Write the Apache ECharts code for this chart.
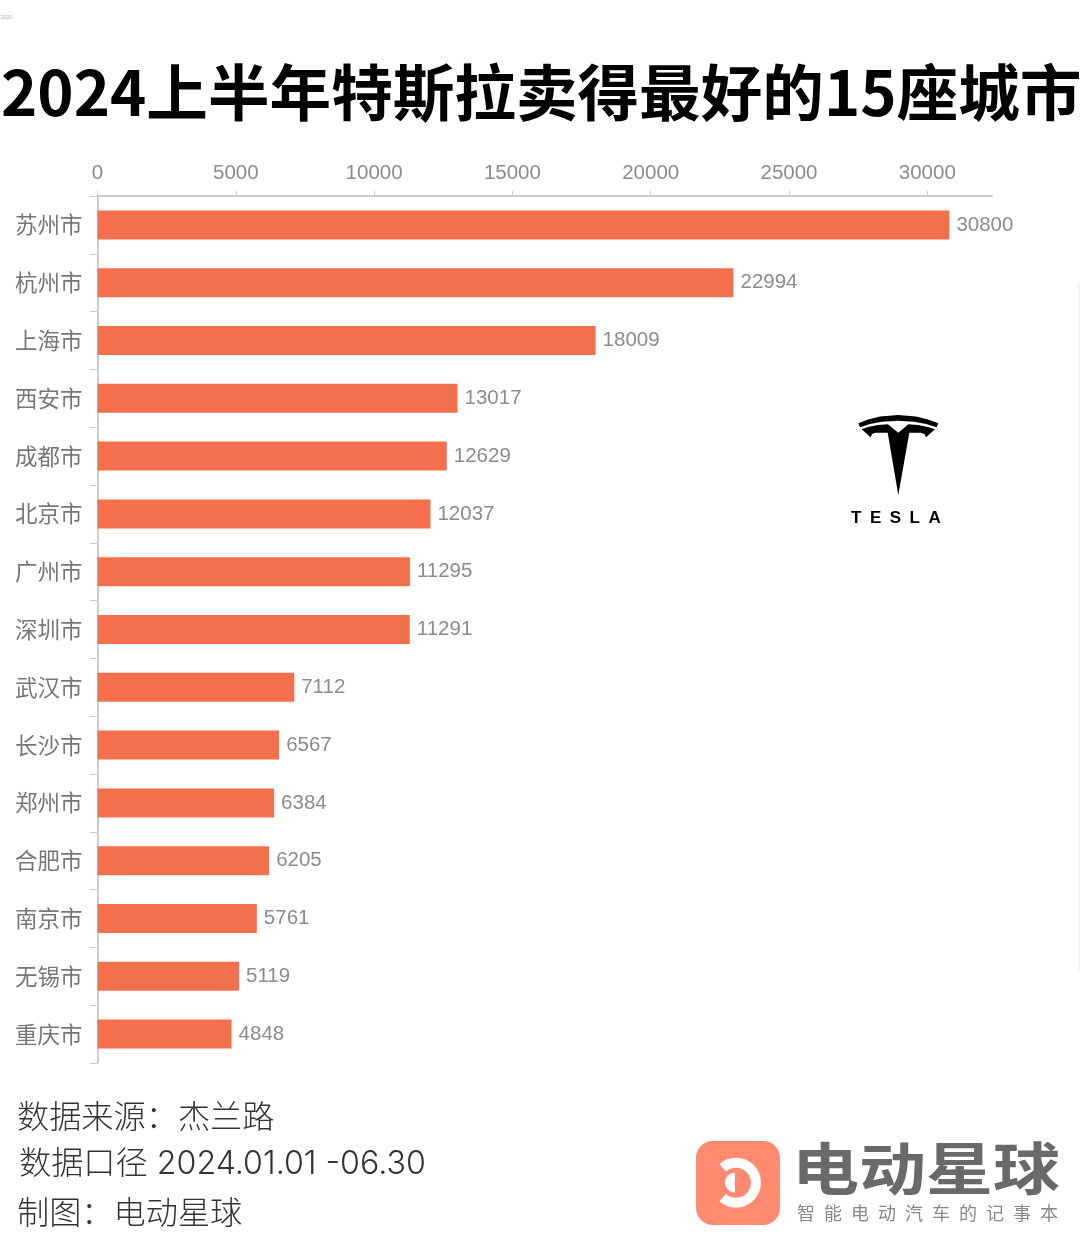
<!DOCTYPE html>
<html>
<head>
<meta charset="utf-8">
<script src="https://cdn.jsdelivr.net/npm/echarts@6/dist/echarts.min.js"></script>
<style>
html,body{margin:0;padding:0;background:#fff;}
#main{width:1080px;height:1260px;}
</style>
</head>
<body>
<div id="main"></div>
<script>
var cities = ['苏州市','杭州市','上海市','西安市','成都市','北京市','广州市','深圳市','武汉市','长沙市','郑州市','合肥市','南京市','无锡市','重庆市'];
var sales = [30800,22994,18009,13017,12629,12037,11295,11291,7112,6567,6384,6205,5761,5119,4848];
var xTicks = [0,5000,10000,15000,20000,25000,30000];
var axisMax = 32340;

var cjk = '"Noto Sans CJK SC"';
var mixed = '"Liberation Sans","Noto Sans CJK SC"';
var footFont = '"Inter","Noto Sans CJK SC"';

// tesla logo outline
var logoT = [[861.7,429.3],[868,427],[878,425],[888,424.3],[898.3,432.7],[908.3,424.3],[918,425],[928,427],[935,429.3],[926,437.3],[924.5,434],[921,432.7],[909.3,432.7],[898.3,495],[887.7,432.7],[875,432.7],[872,434],[870.7,437.3]];
var logoArc = [[858.3,423.3],[868,419.5],[880,416.5],[898.3,415],[916,416.5],[928,419.5],[938.3,423.3],[936.7,427.3],[926,424],[914,421.8],[898.3,420.7],[882,421.8],[870,424],[860,427.3]];

var myChart = echarts.init(document.getElementById('main'));
myChart.setOption({
    backgroundColor: '#fff',
    animation: false,
    grid: {left: 97.5, right: 88, top: 196, bottom: 197, containLabel: false},
    xAxis: {
        type: 'value',
        position: 'top',
        min: 0,
        max: axisMax,
        splitLine: {show: false},
        axisLine: {show: true, lineStyle: {color: '#ccc', width: 2}},
        axisTick: {show: true, length: 5, lineStyle: {color: '#ccc'}, customValues: xTicks},
        axisLabel: {
            color: '#8c8c8c', fontSize: 20.5, fontFamily: mixed, margin: 12, customValues: xTicks,
            formatter: function(v){ return String(v); }
        }
    },
    yAxis: {
        type: 'category',
        inverse: true,
        data: cities,
        axisLine: {show: true, lineStyle: {color: '#ccc', width: 2}},
        axisTick: {show: true, length: 8, lineStyle: {color: '#ccc'}},
        axisLabel: {color: '#777', fontSize: 22.5, fontFamily: cjk, margin: 15}
    },
    series: [{
        type: 'bar',
        data: sales,
        barWidth: 29,
        itemStyle: {color: '#f4704c'},
        label: {show: true, position: 'right', distance: 7, color: '#8c8c8c', fontSize: 20.5, fontFamily: mixed}
    }],
    graphic: [
        {type: 'text', left: 1, top: 15, style: {text: '2020', fontSize: 5, fill: '#aaa', fontFamily: mixed}},
        {type: 'text', left: 1, top: 62, style: {text: '2024上半年特斯拉卖得最好的15座城市', fontSize: 61.6, fontWeight: 'bold', fill: '#000', fontFamily: cjk}},
        {type: 'line', shape: {x1: 1079, y1: 283, x2: 1079, y2: 970}, style: {stroke: '#e6e6e6', lineWidth: 1}},
        {type: 'polygon', shape: {points: logoArc}, style: {fill: '#000'}},
        {type: 'polygon', shape: {points: logoT}, style: {fill: '#000'}},
        {type: 'text', left: 851, top: 510, style: {text: 'T\u2002E\u2002S\u2002L\u2002A', fontSize: 17, fontWeight: 'bold', fill: '#000', fontFamily: mixed}},
        {type: 'text', left: 17, top: 1100, style: {text: '数据来源：杰兰路', fontSize: 32.2, fontWeight: 300, fill: '#333', fontFamily: cjk}},
        {type: 'text', left: 19, top: 1148, style: {text: '数据口径 2024.01.01 -06.30', fontSize: 32.2, fontWeight: 300, fill: '#333', fontFamily: footFont}},
        {type: 'text', left: 17, top: 1196, style: {text: '制图：电动星球', fontSize: 32.2, fontWeight: 300, fill: '#333', fontFamily: cjk}},
        {type: 'rect', shape: {x: 696, y: 1141, width: 84, height: 84, r: 17}, style: {fill: '#ff8a70'}},
        {type: 'arc', shape: {cx: 736, cy: 1182.7, r: 20, startAngle: -2.3, endAngle: 2.3, clockwise: true}, style: {stroke: '#fff', fill: 'none', lineWidth: 10}},
        {type: 'sector', shape: {cx: 735, cy: 1182.5, r: 10, r0: 0, startAngle: Math.PI / 2, endAngle: Math.PI * 1.5, clockwise: true}, style: {fill: '#fff'}},
        {type: 'text', left: 792, top: 1140, scaleY: 0.84, style: {text: '电动星球', fontSize: 67, fontWeight: 'bold', fill: '#696969', fontFamily: cjk}},
        {type: 'text', left: 797, top: 1204, style: {text: '智\u2002能\u2002电\u2002动\u2002汽\u2002车\u2002的\u2002记\u2002事\u2002本', fontSize: 18, fill: '#888', fontFamily: cjk}}
    ]
});
</script>
</body>
</html>
